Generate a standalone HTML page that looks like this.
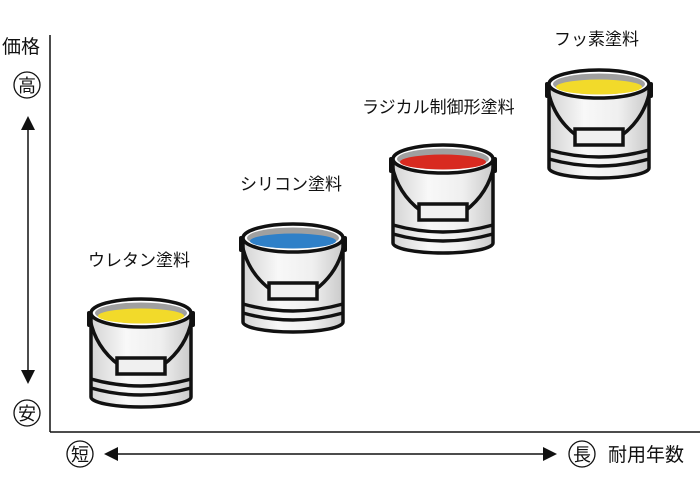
<!DOCTYPE html>
<html><head><meta charset="utf-8"><style>
body{margin:0;background:#fff;width:700px;height:500px;overflow:hidden}
svg{display:block}
text{font-family:"Liberation Sans","Noto Sans CJK JP",sans-serif;fill:#111}
</style></head><body>
<svg width="700" height="500" viewBox="0 0 700 500">
<defs>
<linearGradient id="g" x1="0" x2="1" y1="0" y2="0">
<stop offset="0" stop-color="#d4d4d4"/><stop offset="0.35" stop-color="#f8f8f8"/><stop offset="0.7" stop-color="#efefef"/><stop offset="1" stop-color="#cacaca"/>
</linearGradient>
<g id="b">
<path d="M2,16 L2,28 M106,16 L106,28" stroke="#111" stroke-width="4" stroke-linecap="round"/>
<path d="M4,16 L4,100 A50,10 0 0 0 104,100 L104,16 Z" fill="url(#g)" stroke="#111" stroke-width="3.5"/>
<path d="M4,82 Q54,96 104,82 M4,91 Q54,105 104,91" fill="none" stroke="#111" stroke-width="3.5"/>
<path d="M3,22 C8,48 24,62 32,68 M105,22 C100,48 84,62 76,68" fill="none" stroke="#111" stroke-width="3.5"/>
<rect x="30" y="61" width="48" height="16" fill="#f0f0f0" stroke="#111" stroke-width="3.5"/>
<ellipse cx="54" cy="16" rx="50" ry="14" fill="#fff" stroke="#111" stroke-width="3.5"/>
<ellipse cx="54" cy="16" rx="46" ry="10.5" fill="#a0a0a0"/>
</g>
</defs>
<line x1="50" y1="35" x2="50" y2="432" stroke="#111" stroke-width="1.5"/>
<line x1="50" y1="432" x2="700" y2="432" stroke="#111" stroke-width="1.5"/>
<line x1="28" y1="128" x2="28" y2="372" stroke="#111" stroke-width="1.5"/>
<polygon points="28,116 21,130 35,130" fill="#111"/>
<polygon points="28,384 21,370 35,370" fill="#111"/>
<line x1="116" y1="454" x2="545" y2="454" stroke="#111" stroke-width="1.5"/>
<polygon points="104,454 118,447 118,461" fill="#111"/>
<polygon points="557,454 543,447 543,461" fill="#111"/>
<circle cx="27" cy="85" r="13" fill="none" stroke="#111" stroke-width="1.3"/>
<circle cx="27" cy="413" r="13" fill="none" stroke="#111" stroke-width="1.3"/>
<circle cx="80" cy="454" r="13" fill="none" stroke="#111" stroke-width="1.3"/>
<circle cx="582" cy="454" r="13" fill="none" stroke="#111" stroke-width="1.3"/>
<text x="27" y="92" font-size="18" text-anchor="middle">高</text>
<text x="27" y="420" font-size="18" text-anchor="middle">安</text>
<text x="80" y="461" font-size="18" text-anchor="middle">短</text>
<text x="582" y="461" font-size="18" text-anchor="middle">長</text>
<text x="2" y="53" font-size="19">価格</text>
<text x="608" y="461" font-size="19">耐用年数</text>
<text x="88" y="266" font-size="17">ウレタン塗料</text>
<text x="240" y="190" font-size="17">シリコン塗料</text>
<text x="362" y="113" font-size="17">ラジカル制御形塗料</text>
<text x="554" y="45" font-size="17">フッ素塗料</text>
<g transform="translate(87,297)"><use href="#b"/><ellipse cx="54" cy="19" rx="43" ry="7.5" fill="#f2da2a"/></g>
<g transform="translate(239,222)"><use href="#b"/><ellipse cx="54" cy="19" rx="43" ry="7.5" fill="#2f80c8"/></g>
<g transform="translate(389,143)"><use href="#b"/><ellipse cx="54" cy="19" rx="43" ry="7.5" fill="#d82a20"/></g>
<g transform="translate(545,68)"><use href="#b"/><ellipse cx="54" cy="19" rx="43" ry="7.5" fill="#f2da2a"/></g>
</svg>
</body></html>
